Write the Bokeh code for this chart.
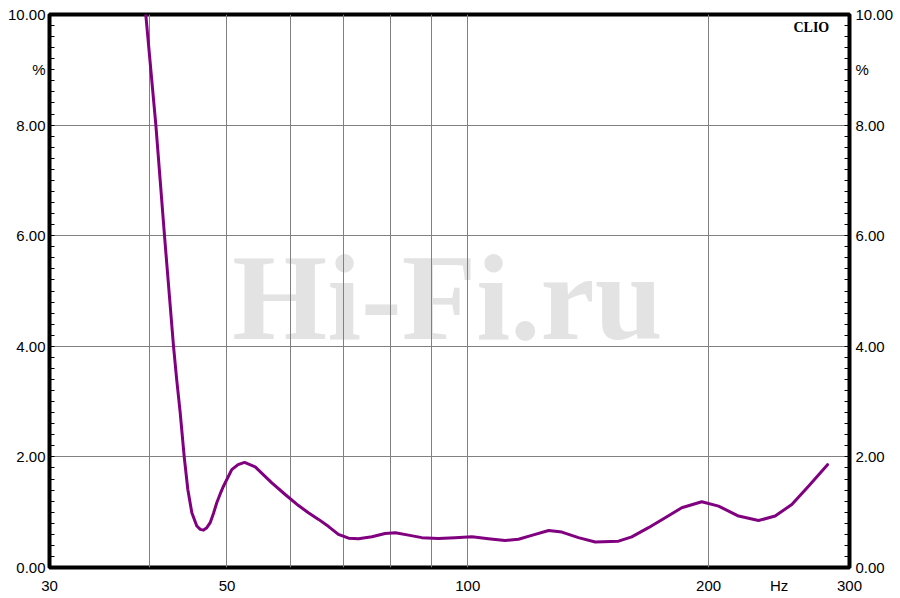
from bokeh.plotting import figure
from bokeh.models import FixedTicker, Label, ColumnDataSource, PrintfTickFormatter, LinearAxis
from bokeh.core.properties import value
from bokeh.embed import file_html
from bokeh.resources import INLINE

# ---- data ----
freq_hz = [39.58, 40.74, 41.77, 42.87, 43.26, 43.70, 44.21, 44.67, 45.19, 45.84,
           46.30, 46.73, 47.18, 47.64, 48.10, 48.55, 49.03, 49.50, 50.69, 51.62,
           52.59, 54.23, 56.89, 59.12, 61.43,
           63.2, 65.08, 66.99, 68.9, 70.95, 73.0, 75.9, 78.8, 81.2, 84.3,
           87.6, 91.9, 96.4, 101.2, 106.1, 111.3, 115.7, 120.2, 126.2, 131.1,
           137.5, 144.3, 154.3, 160.3, 168.2, 176.5, 185.1, 196.1, 205.8, 218.0,
           230.9, 242.2, 254.1, 266.6, 281.6]
thd_pct = [10.0, 8.01, 6.00, 4.00, 3.40, 2.80, 2.00, 1.41, 0.99, 0.75,
           0.69, 0.675, 0.72, 0.81, 0.98, 1.17, 1.33, 1.47, 1.77, 1.86,
           1.90, 1.82, 1.53, 1.32, 1.12,
           0.99, 0.87, 0.74, 0.60, 0.53, 0.52, 0.555, 0.615, 0.63, 0.585,
           0.54, 0.525, 0.54, 0.555, 0.52, 0.49, 0.51, 0.58, 0.67, 0.64,
           0.54, 0.46, 0.476, 0.555, 0.72, 0.90, 1.08, 1.19, 1.11, 0.93,
           0.85, 0.93, 1.14, 1.47, 1.86]

x_tick_values = [30, 50, 100, 200, 245, 300]
x_tick_labels = {245: "Hz"}
x_grid_values = [40, 50, 60, 70, 80, 90, 100, 200]
y_tick_values = [0, 2, 4, 6, 8, 9, 10]
y_tick_labels = {9: "%"}
y_grid_values = [2, 4, 6, 8]
y_minor_values = [round(0.2 * i, 1) for i in range(51)]

brand_text = "CLIO"
watermark_text = "Hi-Fi.ru"

# ---- figure ----
p = figure(x_axis_type="log", x_range=(30, 300), y_range=(0, 10),
           frame_width=800, frame_height=553,
           min_border_left=49, min_border_top=14, min_border_right=10, min_border_bottom=26,
           output_backend="svg", toolbar_location=None,
           background_fill_color="white", border_fill_color="white")

p.outline_line_color = "black"
p.outline_line_width = 4
p.outline_line_alpha = 1.0

# watermark under the grid
p.text(x=[94.3], y=[4.89], text=[watermark_text],
       text_font=value("Liberation Serif"), text_font_style="bold",
       text_font_size="122px", text_color="#e3e3e3",
       text_align="center", text_baseline="middle", level="image")

# curve
src = ColumnDataSource(dict(f=freq_hz, v=thd_pct))
p.line("f", "v", source=src, line_color="#800080", line_width=3,
       line_join="round", line_cap="round")

# grids
p.xgrid.ticker = FixedTicker(ticks=x_grid_values)
p.ygrid.ticker = FixedTicker(ticks=y_grid_values)
for g in (p.xgrid, p.ygrid):
    g.grid_line_color = "#808080"
    g.grid_line_width = 1
    g.grid_line_alpha = 1.0

# x axis
xa = p.xaxis[0]
xa.ticker = FixedTicker(ticks=x_tick_values)
xa.major_label_overrides = x_tick_labels
xa.axis_line_color = None
xa.major_tick_in = 0
xa.major_tick_out = 0
xa.minor_tick_in = 0
xa.minor_tick_out = 0
xa.major_label_standoff = 9

# y axes (left and right)
ya = p.yaxis[0]
ra = LinearAxis()
p.add_layout(ra, "right")
for ax, so in ((ya, 4), (ra, 6)):
    ax.ticker = FixedTicker(ticks=y_tick_values, minor_ticks=y_minor_values)
    ax.formatter = PrintfTickFormatter(format="%.2f")
    ax.major_label_overrides = y_tick_labels
    ax.axis_line_color = None
    ax.major_tick_in = 0
    ax.major_tick_out = 0
    ax.minor_tick_in = 5
    ax.minor_tick_out = 0
    ax.minor_tick_line_color = "black"
    ax.minor_tick_line_width = 1
    ax.major_label_standoff = so

for ax in (xa, ya, ra):
    ax.major_label_text_font = "Liberation Sans"
    ax.major_label_text_font_size = "15px"
    ax.major_label_text_color = "black"

# brand label
p.add_layout(Label(x=283, y=9.77, text=brand_text, text_font="Liberation Serif",
                   text_font_style="bold", text_font_size="14px", text_color="black",
                   text_align="right", text_baseline="middle"))

open("out.html", "w").write(file_html(p, INLINE))
